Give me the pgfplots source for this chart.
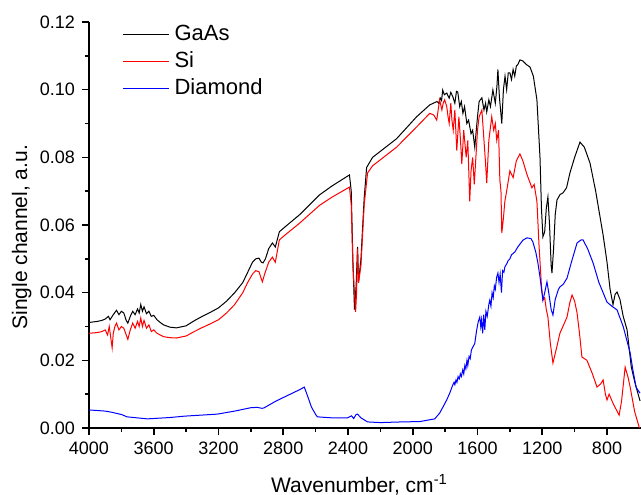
\documentclass[border=0pt]{standalone}
\usepackage{fontspec}
\setmainfont{Liberation Sans}
\usepackage{pgfplots}
\pgfplotsset{compat=1.18}
\begin{document}
\begin{tikzpicture}
\useasboundingbox (0,0) rectangle (320.5pt,247pt);
\begin{axis}[
  at={(44.5pt,33pt)}, anchor=south west,
  scale only axis, width=276pt, height=203pt,
  x dir=reverse, xmin=590, xmax=4000, ymin=0, ymax=0.12,
  axis x line=bottom, axis y line=left,
  axis line style={-, line width=1pt},
  xtick={800,1200,...,4000}, ytick={0,0.02,...,0.12},
  minor x tick num=1, minor y tick num=1,
  tick align=outside, major tick length=3.5pt, minor tick length=2pt,
  every tick/.style={black, line width=0.8pt},
  scaled y ticks=false,
  /pgf/number format/assume math mode=true,
  xticklabel style={/pgf/number format/1000 sep={}},
  yticklabel style={/pgf/number format/.cd, fixed, fixed zerofill, precision=2},
  ticklabel style={font=\fontsize{9}{10}\selectfont},
  xlabel={Wavenumber, cm\textsuperscript{-1}},
  ylabel={Single channel, a.u.},
  label style={font=\fontsize{10.5}{12}\selectfont},
  xlabel style={at={(axis description cs:0.49,-0.158)}, anchor=base},
  ylabel style={at={(axis description cs:-0.112,0.47)}, anchor=base, rotate=0},
  legend style={at={(axis description cs:0.06,0.995)}, anchor=north west, draw=none, fill=none,
    inner sep=0pt, row sep=3.5pt, font=\fontsize{11}{12}\selectfont,
    nodes={inner sep=0pt, text height=8pt, text depth=2pt}},
  legend image code/.code={\draw[#1] (0pt,0pt) -- (23pt,0pt); \path (25.5pt,0pt);},
  legend cell align=left,
]
\addplot[black, line width=0.5pt] coordinates {
(4000,0.0312)(3950,0.0315)(3920,0.0318)(3900,0.0322)(3880,0.0330)(3870,0.0320)(3850,0.0335)(3830,0.0348)(3815,0.0335)(3800,0.0345)(3785,0.0340)(3770,0.0318)(3760,0.0310)(3745,0.0330)(3730,0.0345)(3715,0.0335)(3700,0.0352)(3690,0.0340)(3680,0.0365)(3670,0.0345)(3660,0.0358)(3645,0.0338)(3630,0.0345)(3615,0.0330)(3600,0.0333)(3580,0.0320)(3560,0.0312)(3540,0.0305)(3500,0.0298)(3460,0.0296)(3400,0.0302)(3350,0.0317)(3300,0.0330)(3250,0.0342)(3200,0.0355)(3150,0.0375)(3100,0.0400)(3050,0.0430)(3020,0.0460)(2990,0.0490)(2970,0.0500)(2950,0.0502)(2935,0.0490)(2925,0.0488)(2910,0.0500)(2890,0.0530)(2867,0.0547)(2849,0.0535)(2824,0.0580)(2790,0.0594)(2700,0.0630)(2576,0.0689)(2500,0.0715)(2391,0.0748)(2380,0.0700)(2370,0.0500)(2360,0.0350)(2350,0.0420)(2341,0.0535)(2335,0.0430)(2320,0.0500)(2300,0.0680)(2285,0.0770)(2248,0.0800)(2100,0.0855)(1976,0.0920)(1895,0.0955)(1850,0.0965)(1840,0.0960)(1830,0.0975)(1822,0.0968)(1815,0.0999)(1805,0.0985)(1790,0.0990)(1775,0.0975)(1765,0.0992)(1753,0.0980)(1740,0.0960)(1730,0.0995)(1722,0.0993)(1710,0.0950)(1700,0.0965)(1690,0.0930)(1680,0.0950)(1666,0.0900)(1655,0.0910)(1640,0.0870)(1630,0.0880)(1617,0.0830)(1600,0.0920)(1590,0.0965)(1573,0.0976)(1560,0.0940)(1550,0.0960)(1543,0.0934)(1530,0.0970)(1520,0.0950)(1505,0.0999)(1490,0.0960)(1480,0.1010)(1474,0.1060)(1465,0.0980)(1450,0.0900)(1440,0.1000)(1430,0.1040)(1420,0.1000)(1410,0.1050)(1400,0.1050)(1390,0.1030)(1380,0.1060)(1370,0.1040)(1360,0.1070)(1350,0.1075)(1338,0.1088)(1320,0.1085)(1300,0.1075)(1276,0.1067)(1255,0.1040)(1233,0.0970)(1214,0.0800)(1205,0.0650)(1196,0.0565)(1185,0.0580)(1175,0.0650)(1165,0.0683)(1155,0.0600)(1145,0.0480)(1140,0.0458)(1130,0.0530)(1120,0.0630)(1109,0.0674)(1090,0.0690)(1072,0.0695)(1050,0.0710)(1029,0.0754)(1000,0.0800)(967,0.0845)(940,0.0830)(905,0.0783)(870,0.0700)(824,0.0570)(800,0.0490)(781,0.0410)(763,0.0365)(750,0.0395)(738,0.0402)(720,0.0380)(700,0.0330)(676,0.0290)(650,0.0180)(627,0.0133)(596,0.0080)
};
\addlegendentry{GaAs}
\addplot[red, line width=0.5pt] coordinates {
(4000,0.0280)(3950,0.0282)(3920,0.0285)(3900,0.0290)(3885,0.0275)(3875,0.0300)(3865,0.0265)(3857,0.0237)(3850,0.0280)(3840,0.0300)(3830,0.0310)(3815,0.0290)(3800,0.0300)(3785,0.0295)(3770,0.0275)(3760,0.0262)(3745,0.0290)(3730,0.0310)(3715,0.0295)(3700,0.0315)(3690,0.0300)(3680,0.0325)(3670,0.0300)(3660,0.0318)(3645,0.0295)(3630,0.0305)(3615,0.0285)(3600,0.0290)(3580,0.0280)(3560,0.0275)(3540,0.0270)(3500,0.0267)(3460,0.0266)(3400,0.0272)(3350,0.0285)(3300,0.0297)(3250,0.0308)(3200,0.0320)(3150,0.0340)(3100,0.0365)(3050,0.0400)(3020,0.0430)(2990,0.0455)(2970,0.0465)(2950,0.0462)(2935,0.0440)(2929,0.0432)(2915,0.0455)(2890,0.0490)(2867,0.0505)(2849,0.0490)(2824,0.0556)(2790,0.0570)(2700,0.0605)(2576,0.0658)(2500,0.0682)(2391,0.0712)(2380,0.0660)(2370,0.0480)(2353,0.0343)(2347,0.0400)(2341,0.0530)(2335,0.0430)(2320,0.0480)(2300,0.0660)(2279,0.0754)(2248,0.0775)(2100,0.0830)(1976,0.0890)(1895,0.0930)(1870,0.0925)(1852,0.0910)(1840,0.0950)(1834,0.0970)(1820,0.0940)(1812,0.0960)(1803,0.0970)(1790,0.0950)(1782,0.0920)(1775,0.0900)(1765,0.0960)(1758,0.0910)(1750,0.0880)(1740,0.0940)(1728,0.0820)(1715,0.0920)(1705,0.0850)(1697,0.0780)(1685,0.0880)(1670,0.0800)(1660,0.0850)(1648,0.0670)(1640,0.0760)(1630,0.0800)(1620,0.0720)(1610,0.0800)(1600,0.0880)(1590,0.0920)(1573,0.0940)(1560,0.0850)(1550,0.0780)(1543,0.0724)(1530,0.0850)(1512,0.0920)(1500,0.0880)(1490,0.0900)(1481,0.0850)(1470,0.0880)(1462,0.0733)(1455,0.0700)(1450,0.0576)(1440,0.0620)(1431,0.0670)(1420,0.0700)(1400,0.0760)(1380,0.0740)(1360,0.0790)(1338,0.0810)(1320,0.0790)(1295,0.0750)(1264,0.0710)(1250,0.0720)(1233,0.0670)(1220,0.0540)(1205,0.0420)(1196,0.0378)(1185,0.0385)(1175,0.0350)(1165,0.0328)(1150,0.0250)(1134,0.0192)(1110,0.0240)(1091,0.0280)(1047,0.0328)(1030,0.0370)(1016,0.0393)(1000,0.0375)(985,0.0340)(970,0.0280)(955,0.0210)(924,0.0200)(890,0.0160)(862,0.0121)(840,0.0130)(824,0.0142)(810,0.0100)(800,0.0083)(787,0.0100)(760,0.0070)(725,0.0038)(710,0.0080)(688,0.0180)(670,0.0150)(657,0.0121)(630,0.0050)(600,0.0000)
};
\addlegendentry{Si}
\addplot[blue, line width=0.5pt] coordinates {
(4000,0.0053)(3988,0.0053)(3900,0.0050)(3864,0.0047)(3800,0.0040)(3765,0.0033)(3640,0.0027)(3500,0.0031)(3412,0.0035)(3208,0.0041)(3100,0.0050)(3000,0.0060)(2960,0.0061)(2930,0.0058)(2917,0.0060)(2880,0.0070)(2855,0.0077)(2800,0.0090)(2700,0.0113)(2670,0.0121)(2650,0.0095)(2626,0.0062)(2600,0.0040)(2589,0.0033)(2500,0.0030)(2403,0.0030)(2378,0.0036)(2365,0.0028)(2350,0.0040)(2341,0.0041)(2320,0.0030)(2279,0.0018)(2200,0.0016)(2069,0.0018)(1957,0.0019)(1864,0.0027)(1834,0.0044)(1810,0.0065)(1790,0.0083)(1770,0.0105)(1753,0.0127)(1745,0.0135)(1740,0.0128)(1733,0.0142)(1727,0.0135)(1720,0.0152)(1713,0.0145)(1706,0.0160)(1700,0.0152)(1691,0.0172)(1685,0.0160)(1678,0.0185)(1672,0.0175)(1665,0.0200)(1660,0.0185)(1652,0.0212)(1645,0.0205)(1638,0.0230)(1630,0.0238)(1617,0.0250)(1605,0.0290)(1595,0.0315)(1586,0.0328)(1580,0.0300)(1575,0.0320)(1568,0.0280)(1562,0.0335)(1555,0.0290)(1548,0.0345)(1540,0.0330)(1530,0.0365)(1524,0.0378)(1517,0.0360)(1510,0.0400)(1503,0.0385)(1496,0.0420)(1490,0.0410)(1482,0.0445)(1474,0.0458)(1467,0.0430)(1460,0.0455)(1452,0.0400)(1445,0.0465)(1437,0.0460)(1431,0.0476)(1420,0.0485)(1410,0.0495)(1400,0.0500)(1390,0.0512)(1370,0.0520)(1351,0.0535)(1320,0.0555)(1295,0.0562)(1270,0.0560)(1258,0.0550)(1240,0.0520)(1227,0.0488)(1214,0.0446)(1196,0.0378)(1185,0.0400)(1171,0.0432)(1160,0.0400)(1145,0.0350)(1134,0.0334)(1120,0.0380)(1100,0.0410)(1091,0.0417)(1070,0.0425)(1047,0.0443)(1020,0.0490)(985,0.0547)(960,0.0556)(948,0.0556)(920,0.0530)(886,0.0488)(850,0.0430)(800,0.0372)(770,0.0360)(738,0.0349)(700,0.0300)(657,0.0222)(640,0.0171)(620,0.0120)(596,0.0103)
};
\addlegendentry{Diamond}
\end{axis}
\end{tikzpicture}
\end{document}
